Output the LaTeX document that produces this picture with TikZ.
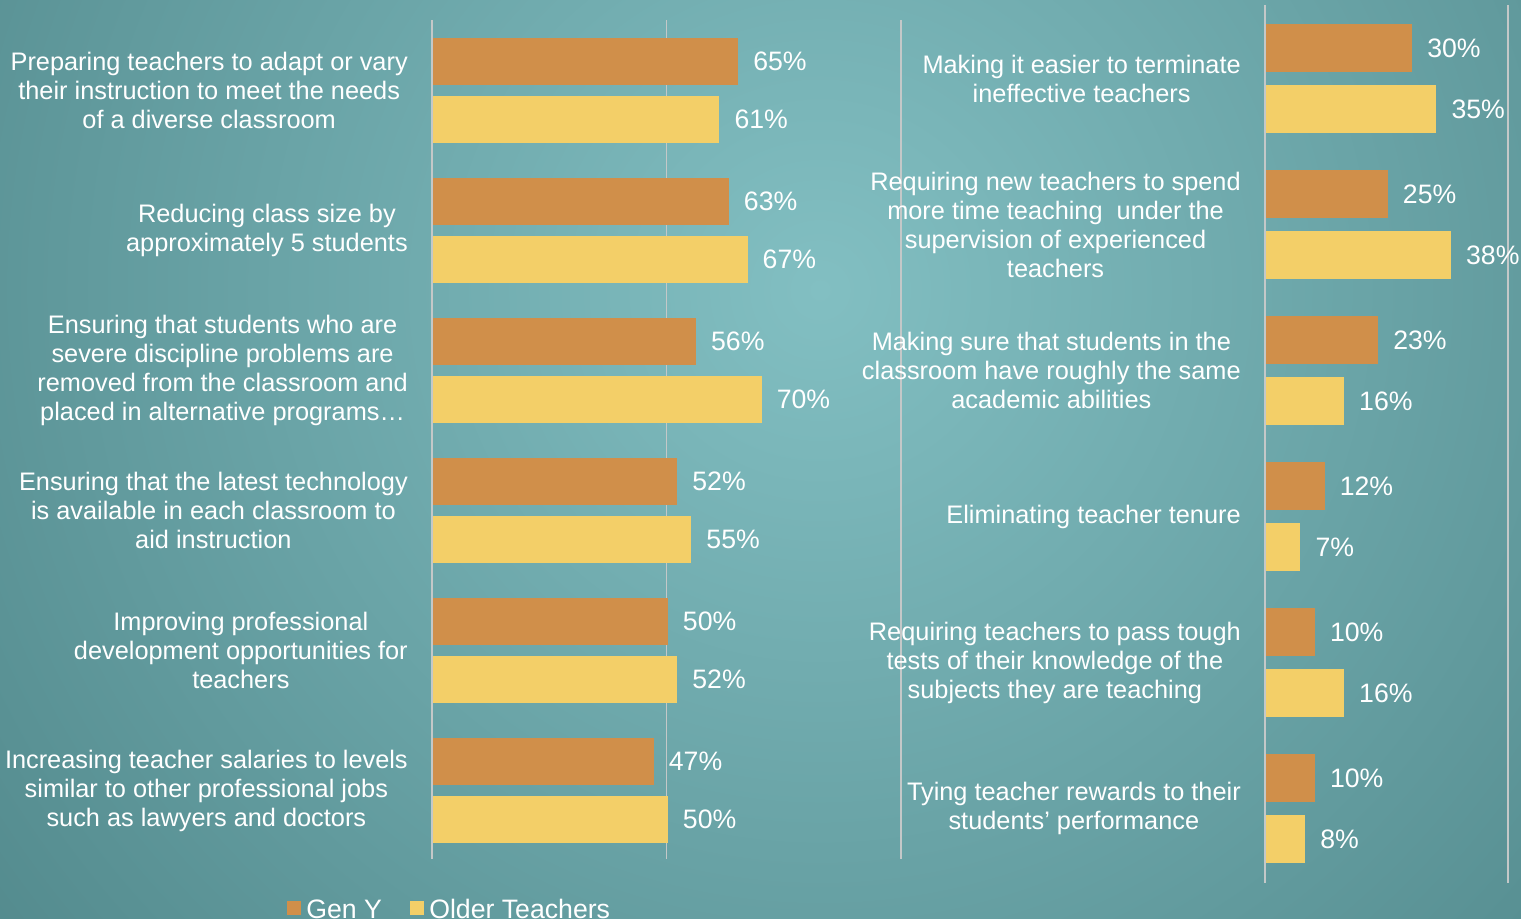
\documentclass[tikz,border=0pt]{standalone}
\usepackage{fontspec}
\setmainfont{Liberation Sans}
\usepackage{tikz}
\usetikzlibrary{positioning}
\definecolor{GenY}{HTML}{D08F4A}
\definecolor{Older}{HTML}{F3CF68}
\definecolor{BgIn}{HTML}{82BFC2}
\definecolor{BgOut}{HTML}{386C6F}
\definecolor{Grid}{HTML}{C4C8C8}
\newcommand{\chartfont}[0]{\fontsize{19}{21.75}\selectfont}
\newcommand{\valfont}[0]{\fontsize{20}{24}\selectfont}

\tikzset{
  catlabel/.style={anchor=east, align=center, text=white, font=\chartfont, inner sep=0pt},
  vallabel/.style={anchor=west, text=white, font=\valfont, inner sep=0pt},
  genybar/.style={fill=GenY, inner sep=0pt, anchor=north west},
  olderbar/.style={fill=Older, inner sep=0pt, anchor=north west},
  gridline/.style={draw=Grid, line width=1.2pt},
  keybox/.style={inner sep=0pt, minimum size=10.5pt, anchor=north west}
}

\begin{document}
\begin{tikzpicture}[x=0.75pt, y=-0.75pt]

  \newcommand\LX{432}   % left axis
  \newcommand\LS{4.69}  % left px per percent
  \newcommand\RX{1265}  % right axis
  \newcommand\RS{4.86}  % right px per percent

  \useasboundingbox (0, 0) rectangle (1521, 919);

  %% background
  \begin{scope}
    \clip (0, 0) rectangle (1521, 919);
    \shade[inner color=BgIn, outer color=BgOut] (820, 290) circle (1250pt);
  \end{scope}

  %% grid lines
  \draw[gridline] (\LX, 20) -- (\LX, 859);
  \draw[gridline] (\LX + 50*\LS, 20) -- (\LX + 50*\LS, 859);
  \draw[gridline] (\LX + 100*\LS, 20) -- (\LX + 100*\LS, 859);
  \draw[gridline] (\RX, 5) -- (\RX, 883);
  \draw[gridline] (\RX + 50*\RS, 5) -- (\RX + 50*\RS, 883);

  %% left chart
  \foreach \g/\o/\txt [count=\i] in {
    65/61/{Preparing teachers to adapt or vary\\their instruction to meet the needs\\of a diverse classroom},
    63/67/{Reducing class size by\\approximately 5 students},
    56/70/{Ensuring that students who are\\severe discipline problems are\\removed from the classroom and\\placed in alternative programs…},
    52/55/{Ensuring that the latest technology\\is available in each classroom to\\aid instruction},
    50/52/{Improving professional\\development opportunities for\\teachers},
    47/50/{Increasing teacher salaries to levels\\similar to other professional jobs\\such as lawyers and doctors}}
  {
    \pgfmathsetmacro\wg{\g*\LS*0.75}
    \pgfmathsetmacro\wo{\o*\LS*0.75}
    \node[genybar, minimum width=\wg pt, minimum height=35.25pt]
      (gyL\i) at (\LX + 1, 38 + 140*\i - 140) {};
    \node[olderbar, minimum width=\wo pt, minimum height=35.25pt]
      (olL\i) at (\LX + 1, 96 + 140*\i - 140) {};
    \node[vallabel, right=11pt of gyL\i] (vgyL\i) {\g\%};
    \node[vallabel, right=11pt of olL\i] (volL\i) {\o\%};
    \node[catlabel] (catL\i) at (408, 90.5 + 140*\i - 140) {\txt};
  }

  %% right chart
  \foreach \g/\o/\txt [count=\i] in {
    30/35/{Making it easier to terminate\\ineffective teachers},
    25/38/{Requiring new teachers to spend\\more time teaching\ \ under the\\supervision of experienced\\teachers},
    23/16/{Making sure that students in the\\classroom have roughly the same\\academic abilities},
    12/7/{Eliminating teacher tenure},
    10/16/{Requiring teachers to pass tough\\tests of their knowledge of the\\subjects they are teaching},
    10/8/{Tying teacher rewards to their\\students’ performance}}
  {
    \pgfmathsetmacro\wg{\g*\RS*0.75}
    \pgfmathsetmacro\wo{\o*\RS*0.75}
    \node[genybar, minimum width=\wg pt, minimum height=36pt]
      (gyR\i) at (\RX + 1, 24 + 146*\i - 146) {};
    \node[olderbar, minimum width=\wo pt, minimum height=36pt]
      (olR\i) at (\RX + 1, 85 + 146*\i - 146) {};
    \node[vallabel, right=11pt of gyR\i] (vgyR\i) {\g\%};
    \node[vallabel, right=11pt of olR\i] (volR\i) {\o\%};
    \node[catlabel] (catR\i) at (1241, 78.5 + 146*\i - 146) {\txt};
  }

  %% legend
  \node[keybox, fill=GenY] (keyGenY) at (287, 901) {};
  \node[anchor=base west, text=white, font=\valfont, inner sep=0pt]
    (txtGenY) at (306, 918) {Gen Y};
  \node[keybox, fill=Older] (keyOlder) at (410, 901) {};
  \node[anchor=base west, text=white, font=\valfont, inner sep=0pt]
    (txtOlder) at (429, 918) {Older Teachers};

\end{tikzpicture}
\end{document}
